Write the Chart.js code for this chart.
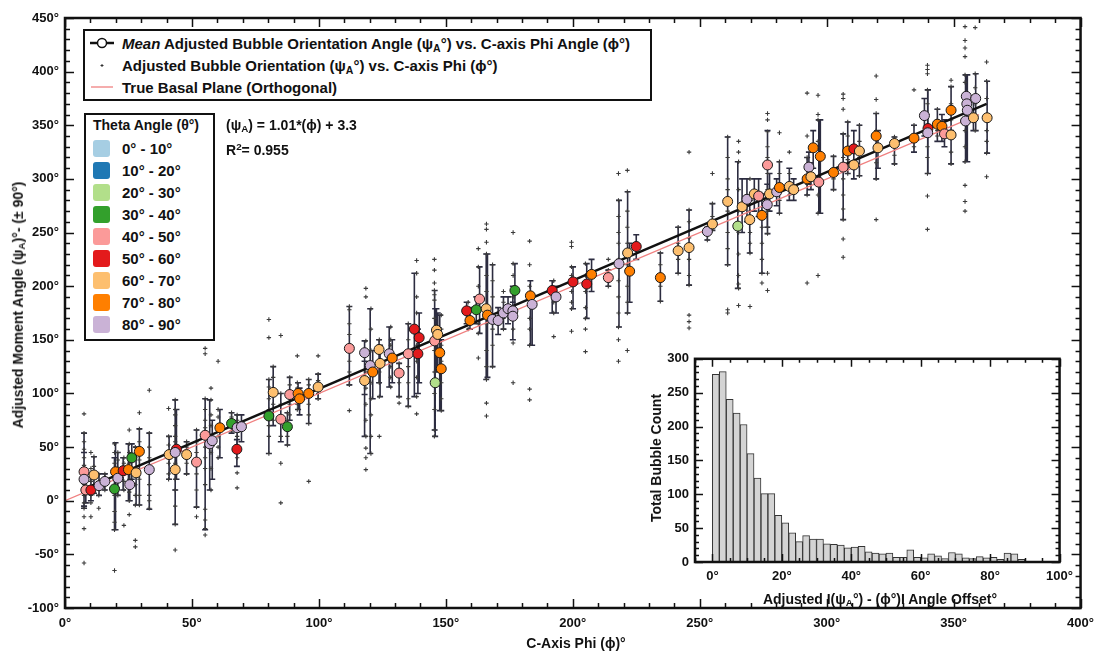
<!DOCTYPE html>
<html>
<head>
<meta charset="utf-8">
<script src="https://cdn.jsdelivr.net/npm/chart.js@4.4.1/dist/chart.umd.min.js"></script>
<style>
    body { margin: 0; background: #fff; font-family: "Liberation Sans", Arial, sans-serif; }
    #wrap { position: relative; width: 1102px; height: 655px; overflow: hidden; }
    #main { position: absolute; left: 0; top: 0; }
    #insetWrap { position: absolute; left: 640px; top: 345px; width: 440px; height: 265px; }
    .box { position: absolute; background: #fff; border: 2px solid #111; box-sizing: border-box; }
    .txt { position: absolute; font-weight: bold; color: #111; white-space: nowrap; line-height: 1; }
    .txt sub { font-size: 0.7em; vertical-align: -0.25em; }
    .txt sup { font-size: 0.7em; vertical-align: 0.5em; }
    .sw { position: absolute; width: 17px; height: 17px; border-radius: 3px; }
    .rot { transform: translate(-50%, -50%) rotate(-90deg); }
</style>
</head>
<body>
<div id="wrap">
    <canvas id="main" width="1102" height="655"></canvas>
    <div id="insetWrap"><canvas id="inset" width="440" height="265"></canvas></div>
    <div id="overlay"></div>
</div>
<script>
// Theta classes (colour per 10 degree bin)
const thetaLabels = ['0° - 10°', '10° - 20°', '20° - 30°', '30° - 40°', '40° - 50°',
    '50° - 60°', '60° - 70°', '70° - 80°', '80° - 90°'];
const thetaColors = ['#a6cee3', '#1f78b4', '#b2df8a', '#33a02c', '#fb9a99',
    '#e31a1c', '#fdbf6f', '#ff7f00', '#cab2d6'];

// Mean points: phi, psi, theta class, error bar low / high
const meanPhi = [7.5, 7.5, 8.2, 10.2, 11.4, 13.4, 15.7, 19.5, 19.9, 20.8,
    22.9, 25.0, 26.3, 25.5, 28.0, 29.3, 33.2, 41.0, 43.9, 43.4,
    43.4, 47.9, 51.8, 55.2, 57.0, 58.0, 61.0, 65.6, 67.8, 69.5,
    67.7, 82.0, 80.3, 85.0, 87.6, 88.5, 91.8, 92.4, 96.0, 99.7,
    112.0, 118.0, 118.0, 120.2, 121.2, 123.7, 124.1, 127.7, 128.9, 131.6,
    135.2, 137.6, 139.5, 139.0, 145.6, 145.8, 146.3, 146.8, 147.6, 148.2,
    158.2, 162.0, 163.3, 159.5, 165.9, 166.4, 168.4, 170.6, 172.7, 174.5,
    176.4, 176.4, 177.2, 183.3, 184.0, 191.9, 193.4, 200.1, 205.5, 207.4,
    214.0, 218.2, 221.6, 222.4, 225.0, 234.5, 241.5, 245.8, 253.0, 255.0,
    261.0, 265.0, 266.7, 268.6, 269.7, 271.5, 273.2, 274.5, 276.6, 277.5,
    276.7, 280.3, 281.4, 285.3, 287.0, 292.3, 293.0, 293.8, 294.7, 296.9,
    297.5, 302.7, 306.5, 308.3, 310.7, 310.7, 312.9, 319.5, 320.2, 326.7,
    334.4, 338.5, 339.9, 339.8, 343.6, 345.4, 346.4, 349.0, 349.0, 355.0,
    355.2, 355.4, 354.7, 358.7, 357.8, 363.2];
const meanPsi = [27, 20, 10, 10, 24, 14, 18, 11, 27, 21,
    28, 29, 40, 15, 26, 46, 29, 43, 48, 45,
    29, 43, 36, 61, 53, 56, 68, 72, 68, 69,
    48, 101, 79, 76, 69, 99, 100, 95, 100, 106,
    142, 138, 112, 126, 120, 141, 128, 137, 133, 119,
    137, 160, 152, 137, 149, 110, 159, 155, 138, 123,
    177, 178, 188, 168, 179, 173, 169, 168, 175, 179,
    177, 172, 196, 191, 183, 196, 190, 204, 202, 211,
    208, 221, 231, 214, 237, 208, 233, 236, 251, 258,
    279, 256, 274, 281, 262, 286, 284, 266, 276, 286,
    313, 288, 292, 293, 290, 300, 311, 302, 329, 297,
    321, 306, 311, 326, 328, 313, 326, 340, 329, 333,
    338, 359, 347, 343, 351, 349, 342, 341, 364, 377,
    370, 364, 354, 375, 357, 357];
const meanTheta = [4, 8, 4, 5, 6, 8, 8, 3, 7, 8,
    5, 7, 3, 8, 6, 7, 8, 6, 5, 8,
    6, 6, 4, 4, 8, 8, 7, 3, 8, 8,
    5, 6, 3, 4, 3, 4, 7, 7, 7, 6,
    4, 8, 6, 8, 7, 6, 6, 8, 7, 4,
    4, 5, 5, 5, 4, 2, 6, 6, 7, 7,
    5, 3, 4, 7, 6, 7, 8, 8, 8, 8,
    8, 8, 3, 7, 8, 5, 8, 5, 5, 7,
    4, 8, 6, 7, 5, 7, 6, 6, 8, 6,
    6, 2, 6, 8, 6, 6, 4, 7, 8, 6,
    4, 8, 7, 6, 6, 7, 8, 6, 7, 4,
    7, 7, 4, 7, 5, 6, 6, 7, 6, 6,
    7, 8, 5, 8, 7, 7, 4, 6, 7, 8,
    8, 8, 8, 8, 6, 6];
const errLow = [-7, -5, -2, 0, 7, 5, 10, -27, -27, 5,
    10, 0, 20, 0, -4, -4, -8, 20, 20, -22,
    10, 25, -6, -27, 10, 20, 40, 63, 50, 55,
    32, 70, 44, 55, 52, 75, 85, 80, 72, 95,
    108, 99, 60, 44, 95, 110, 97, 106, 110, 97,
    88, 97, 110, 100, 66, 60, 120, 120, 84, 84,
    165, 165, 156, 160, 113, 115, 125, 155, 160, 165,
    150, 150, 175, 145, 145, 175, 175, 179, 170, 195,
    200, 162, 175, 185, 225, 186, 212, 201, 243, 252,
    220, 198, 250, 260, 231, 270, 265, 212, 255, 270,
    249, 275, 268, 280, 280, 285, 295, 290, 310, 268,
    268, 290, 262, 305, 310, 300, 303, 300, 310, 314,
    325, 340, 305, 305, 335, 335, 330, 314, 345, 316,
    316, 316, 316, 345, 345, 324];
const errHigh = [63, 45, 25, 22, 41, 25, 25, 40, 54, 45,
    40, 53, 53, 30, 50, 67, 63, 60, 85, 94,
    50, 55, 66, 95, 94, 75, 85, 82, 80, 80,
    57, 125, 113, 100, 82, 115, 110, 105, 113, 118,
    181, 149, 130, 179, 140, 150, 145, 162, 150, 128,
    165, 212, 175, 160, 196, 179, 179, 175, 173, 150,
    185, 190, 218, 180, 230, 230, 220, 180, 190, 190,
    200, 185, 221, 205, 190, 205, 200, 218, 221, 225,
    215, 280, 288, 240, 248, 231, 255, 271, 255, 277,
    339, 316, 300, 300, 280, 300, 300, 286, 295, 305,
    345, 300, 316, 310, 300, 320, 325, 315, 345, 355,
    355, 321, 342, 353, 345, 330, 350, 361, 345, 339,
    350, 375, 383, 383, 365, 360, 355, 386, 386, 397,
    397, 397, 397, 398, 375, 391];

// Individual bubbles: phi column and its psi values
const bubblePhi = [7.5, 10.2, 11.4, 13.3, 15.7, 19.5, 20.8, 23.2, 25.3, 27.7,
    29.3, 33.2, 40.8, 43.4, 47.9, 51.8, 55.2, 57.5, 60.3, 65.6,
    67.8, 80.3, 82, 85, 87.6, 88.5, 91.5, 96, 99.7, 112,
    118.5, 120.5, 123.8, 128.3, 131.6, 135.2, 138.5, 145.5, 148.2, 158.8,
    162.8, 166, 168.4, 172.7, 176.5, 183, 192.5, 199.5, 205, 214,
    218, 221.5, 234.5, 241.5, 245.8, 253, 255, 261, 265.3, 269.8,
    274.5, 276.7, 281.4, 285.3, 292.3, 296.6, 302.7, 306.5, 308.3, 312.9,
    319.5, 326.7, 334.4, 339.7, 343.6, 349, 354.5, 358.5, 363];
const bubblePsi = [
    [81, 63, 55, 48, 40, 33, 22, 15, 5, -2, -7, -15, -26, -58],
    [45, 30, 18, 5, -2, -15],
    [41, 32, 15, 7],
    [25, 18, 5, -7],
    [25, 20, 10],
    [53, 45, 35, 20, 5, -10, -20, -27, -65],
    [45, 38, 30, 12, 5],
    [40, 35, 18, 10, -23],
    [66, 53, 45, 35, 20, 8, 0, -13],
    [50, 40, 15, 5, -4, -37, -43],
    [82, 67, 55, 38, 20, 5, -4],
    [103, 63, 50, 40, 15, 5, 0, -7],
    [86, 60, 52, 35, 25, 20],
    [94, 85, 80, 70, 60, 55, 35, 20, 10, -5, -22, -46],
    [55, 50, 35, 25],
    [66, 55, 45, 25, 10, -6, -15],
    [142, 137, 95, 85, 75, 68, 50, 40, 30, 15, -8, -18, -26, -32],
    [105, 94, 80, 70, 45, 30, 10],
    [130, 85, 78, 60, 50, 40],
    [82, 78, 65],
    [80, 75, 60, 40, 26, 12],
    [169, 152, 113, 106, 95, 85, 70, 60, 44],
    [125, 115, 90, 75],
    [154, 100, 90, 60, 35, -2],
    [82, 75, 60, 52],
    [115, 108, 90, 80],
    [135, 110, 105, 90, 85],
    [113, 108, 90, 80, 72, 18],
    [135, 118, 112, 100, 95],
    [181, 178, 165, 155, 140, 130, 120, 108, 84],
    [198, 190, 149, 140, 120, 105, 90, 75, 60, 49, 40, 29],
    [179, 160, 140, 110, 95, 80, 60, 44],
    [150, 140, 120, 110, 97, 60],
    [162, 150, 145, 125, 115, 106],
    [128, 110, 97, 91],
    [165, 150, 125, 110, 95, 88],
    [224, 212, 190, 175, 145, 130, 115, 97, 81],
    [225, 215, 203, 196, 192, 187, 170, 160, 140, 120, 100, 85, 66, 60],
    [173, 160, 145, 130, 110, 95, 84],
    [185, 175, 165, 160],
    [235, 218, 200, 180, 165, 156, 133],
    [258, 253, 241, 230, 210, 195, 180, 165, 140, 125, 113, 91, 79],
    [220, 205, 190, 160, 145, 125],
    [195, 185, 170, 160],
    [250, 221, 210, 190, 176, 160, 147, 110],
    [242, 220, 200, 190, 170, 160, 145, 104, 94],
    [205, 195, 185, 175, 153],
    [241, 237, 218, 210, 195, 185, 179, 158],
    [221, 210, 195, 180, 170, 160, 139],
    [225, 215, 200],
    [305, 280, 265, 250, 240, 225, 205, 190, 175, 162, 150, 130],
    [308, 288, 270, 255, 240, 220, 200, 185, 175, 140],
    [231, 220, 200, 186],
    [255, 240, 225, 212],
    [325, 271, 260, 245, 225, 210, 201, 173, 167, 161],
    [255, 248, 243],
    [305, 277, 265, 252],
    [339, 320, 300, 290, 270, 250, 235, 220, 178, 175],
    [335, 325, 316, 290, 270, 250, 230, 210, 202, 198, 182],
    [300, 280, 270, 250, 240, 231, 181],
    [286, 270, 255, 240, 225, 212, 203],
    [361, 355, 344, 330, 320, 305, 290, 270, 255, 249, 212, 196],
    [343, 316, 305, 290, 280, 268],
    [325, 305, 295, 285],
    [380, 340, 320, 310, 295, 285, 203],
    [378, 360, 355, 335, 320, 300, 285, 268, 210],
    [321, 310, 300, 290],
    [379, 375, 365, 342, 320, 300, 285, 272, 262, 244, 227],
    [353, 340, 318, 305],
    [350, 335, 320, 303],
    [396, 374, 361, 345, 330, 315, 300, 262],
    [339, 330, 322, 314],
    [383, 350, 340, 330],
    [406, 402, 398, 383, 370, 360, 345, 330, 320, 305, 284, 253],
    [365, 355, 345, 340],
    [392, 386, 370, 355, 340, 325, 314],
    [442, 429, 422, 414, 397, 390, 380, 370, 360, 345, 330, 316, 294, 279, 270],
    [441, 398, 385, 370, 355, 345],
    [409, 391, 375, 360, 345, 335, 324, 302]
];

// Linear fit shown on the chart
const fitSlope = 1.01;
const fitIntercept = 3.3;
const fitRange = [7, 363];
const basalRange = [0, 360];

// Inset histogram: 2 degree bins from 0 to 90
const histBins = [1, 3, 5, 7, 9, 11, 13, 15, 17, 19, 21, 23, 25, 27, 29, 31, 33, 35, 37, 39,
    41, 43, 45, 47, 49, 51, 53, 55, 57, 59, 61, 63, 65, 67, 69, 71, 73, 75, 77, 79,
    81, 83, 85, 87, 89];
const histCounts = [277, 281, 240, 220, 203, 160, 124, 101, 101, 69, 58, 43, 30, 39, 34, 34, 27, 26, 25, 21,
    22, 23, 15, 13, 12, 13, 7, 7, 18, 7, 6, 12, 9, 5, 14, 12, 6, 5, 8, 6,
    7, 4, 13, 12, 4];
const histTicks = [0, 20, 40, 60, 80, 100];

const tickFont = { family: '"Liberation Sans", Arial, sans-serif', size: 13, weight: 'bold' };

// Frame with inward ticks on all four sides
function framePlugin(xMajor, xMinor, yMajor, yMinor, majorLen, minorLen) {
    return {
        id: 'frame',
        afterDatasetsDraw(chart) {
            const { ctx, chartArea: a, scales: { x, y } } = chart;
            ctx.save();
            ctx.strokeStyle = '#111';
            ctx.lineWidth = 1.5;
            ctx.beginPath();
            for (let v = Math.ceil(x.min / xMinor) * xMinor; v <= x.max + 1e-9; v += xMinor) {
                const px = Math.round(x.getPixelForValue(v)) + 0.5;
                const len = Math.abs(v % xMajor) < 1e-6 ? majorLen : minorLen;
                ctx.moveTo(px, a.bottom); ctx.lineTo(px, a.bottom - len);
                ctx.moveTo(px, a.top); ctx.lineTo(px, a.top + len);
            }
            for (let v = Math.ceil(y.min / yMinor) * yMinor; v <= y.max + 1e-9; v += yMinor) {
                const py = Math.round(y.getPixelForValue(v)) + 0.5;
                const len = Math.abs(v % yMajor) < 1e-6 ? majorLen : minorLen;
                ctx.moveTo(a.left, py); ctx.lineTo(a.left + len, py);
                ctx.moveTo(a.right, py); ctx.lineTo(a.right - len, py);
            }
            ctx.stroke();
            ctx.lineWidth = 2.5;
            ctx.strokeRect(a.left, a.top, a.right - a.left, a.bottom - a.top);
            ctx.restore();
        }
    };
}

// Error bars behind the mean points
const errorBarPlugin = {
    id: 'errorBars',
    beforeDatasetsDraw(chart) {
        const { ctx, scales: { x, y } } = chart;
        ctx.save();
        ctx.strokeStyle = '#2c2c40';
        ctx.lineWidth = 1.6;
        ctx.beginPath();
        meanPhi.forEach((phi, i) => {
            const px = x.getPixelForValue(phi);
            const top = y.getPixelForValue(errHigh[i]);
            const bot = y.getPixelForValue(errLow[i]);
            ctx.moveTo(px, top); ctx.lineTo(px, bot);
            ctx.moveTo(px - 3, top); ctx.lineTo(px + 3, top);
            ctx.moveTo(px - 3, bot); ctx.lineTo(px + 3, bot);
        });
        ctx.stroke();
        ctx.restore();
    }
};

const whiteAreaPlugin = {
    id: 'whiteArea',
    beforeDraw(chart) {
        const { ctx, chartArea: a } = chart;
        ctx.save();
        ctx.fillStyle = '#fff';
        ctx.fillRect(a.left, a.top, a.right - a.left, a.bottom - a.top);
        ctx.restore();
    }
};

// Build datasets
const bubbleData = [];
bubblePhi.forEach((phi, i) => {
    bubblePsi[i].forEach(psi => bubbleData.push({ x: phi, y: psi }));
});
const meanData = meanPhi.map((phi, i) => ({ x: phi, y: meanPsi[i] }));
const fitData = fitRange.map(v => ({ x: v, y: fitSlope * v + fitIntercept }));
const basalData = basalRange.map(v => ({ x: v, y: v }));

new Chart(document.getElementById('main'), {
    type: 'scatter',
    data: {
        datasets: [
            {
                label: 'Mean',
                data: meanData,
                pointRadius: 5,
                pointBackgroundColor: meanTheta.map(t => thetaColors[t]),
                pointBorderColor: '#1a1a1a',
                pointBorderWidth: 1,
                order: 0
            },
            {
                type: 'line',
                label: 'Fit',
                data: fitData,
                borderColor: '#111',
                borderWidth: 2.5,
                pointRadius: 0,
                order: 1
            },
            {
                type: 'line',
                label: 'True Basal Plane',
                data: basalData,
                borderColor: '#f08080',
                borderWidth: 1.3,
                pointRadius: 0,
                order: 2
            },
            {
                label: 'Bubbles',
                data: bubbleData,
                pointStyle: 'cross',
                pointRadius: 2.2,
                borderColor: '#3a3a3a',
                borderWidth: 1.1,
                order: 3
            }
        ]
    },
    options: {
        responsive: false,
        animation: false,
        layout: { padding: { top: 18, right: 13, left: 0, bottom: 0 } },
        plugins: { legend: { display: false }, tooltip: { enabled: false } },
        scales: {
            x: {
                type: 'linear',
                min: 0,
                max: 400,
                grid: { display: false, drawTicks: false },
                border: { display: false },
                ticks: {
                    stepSize: 50,
                    padding: 8,
                    color: '#111',
                    font: tickFont,
                    maxRotation: 0,
                    callback: v => v + '°'
                },
                afterFit: s => { s.height = 47; }
            },
            y: {
                type: 'linear',
                min: -100,
                max: 450,
                grid: { display: false, drawTicks: false },
                border: { display: false },
                ticks: {
                    stepSize: 50,
                    padding: 6,
                    color: '#111',
                    font: tickFont,
                    callback: v => v + '°'
                },
                afterFit: s => { s.width = 65; }
            }
        }
    },
    plugins: [errorBarPlugin, framePlugin(50, 10, 50, 10, 9, 5)]
});

// Inset histogram
new Chart(document.getElementById('inset'), {
    type: 'bar',
    data: {
        datasets: [{
            data: histBins.map((b, i) => ({ x: b, y: histCounts[i] })),
            backgroundColor: '#d4d4d4',
            borderColor: '#333',
            borderWidth: 1,
            barPercentage: 1,
            categoryPercentage: 1
        }]
    },
    options: {
        responsive: false,
        animation: false,
        layout: { padding: { top: 9, right: 15, left: 0, bottom: 0 } },
        plugins: { legend: { display: false }, tooltip: { enabled: false } },
        scales: {
            x: {
                type: 'linear',
                min: -5,
                max: 100,
                offset: false,
                grid: { display: false, drawTicks: false },
                border: { display: false },
                afterBuildTicks: s => { s.ticks = histTicks.map(v => ({ value: v })); },
                ticks: {
                    autoSkip: false,
                    padding: 7,
                    color: '#111',
                    font: tickFont,
                    maxRotation: 0,
                    callback: v => v + '°'
                },
                afterFit: s => { s.height = 48; }
            },
            y: {
                min: 0,
                max: 300,
                grid: { display: false, drawTicks: false },
                border: { display: false },
                ticks: { stepSize: 50, padding: 6, color: '#111', font: tickFont },
                afterFit: s => { s.width = 55; }
            }
        }
    },
    plugins: [whiteAreaPlugin, framePlugin(20, 5, 50, 10, 8, 4)]
});

// Legends and labels as HTML text
const overlay = document.getElementById('overlay');
let html = '';
html += '<div class="box" style="left:83px;top:29px;width:569px;height:72px;"></div>';
html += '<svg style="position:absolute;left:88px;top:36px;" width="30" height="60">' +
    '<line x1="2" y1="7" x2="26" y2="7" stroke="#111" stroke-width="2.5"/>' +
    '<circle cx="14" cy="7" r="4.5" fill="#fff" stroke="#111" stroke-width="1.5"/>' +
    '<path d="M12.5 29.5 h3 M14 28 v3" stroke="#333" stroke-width="1"/>' +
    '<line x1="3" y1="51" x2="25" y2="51" stroke="#f08080" stroke-width="1.3"/></svg>';
html += '<div class="txt" style="left:122px;top:36px;font-size:15px;"><i>Mean</i> Adjusted Bubble Orientation Angle (ψ<sub>A</sub>°) vs. C-axis Phi Angle (ϕ°)</div>';
html += '<div class="txt" style="left:122px;top:58px;font-size:15px;">Adjusted Bubble Orientation (ψ<sub>A</sub>°) vs. C-axis Phi (ϕ°)</div>';
html += '<div class="txt" style="left:122px;top:80px;font-size:15px;">True Basal Plane (Orthogonal)</div>';

html += '<div class="box" style="left:84px;top:113px;width:131px;height:228px;"></div>';
html += '<div class="txt" style="left:93px;top:118px;font-size:14px;">Theta Angle (θ°)</div>';
thetaLabels.forEach((lab, i) => {
    const yc = 148 + i * 22;
    html += `<div class="sw" style="left:93px;top:${yc - 8}px;background:${thetaColors[i]};"></div>`;
    html += `<div class="txt" style="left:122px;top:${yc - 7}px;font-size:15px;">${lab}</div>`;
});

html += '<div class="txt" style="left:226px;top:118px;font-size:14px;">(ψ<sub>A</sub>) = 1.01*(ϕ) + 3.3</div>';
html += '<div class="txt" style="left:226px;top:142px;font-size:14px;">R<sup>2</sup>= 0.955</div>';

html += '<div class="txt rot" style="left:19px;top:305px;font-size:14px;">Adjusted Moment Angle (ψ<sub>A</sub>)°- (± 90°)</div>';
html += '<div class="txt" style="left:576px;top:643px;font-size:14px;transform:translate(-50%,-50%);">C-Axis Phi (ϕ)°</div>';
html += '<div class="txt rot" style="left:656px;top:458px;font-size:14px;">Total Bubble Count</div>';
html += '<div class="txt" style="left:880px;top:600px;font-size:14px;transform:translate(-50%,-50%);">Adjusted I(ψ<sub>A</sub>°) - (ϕ°)I Angle Offset°</div>';
overlay.innerHTML = html;
</script>
</body>
</html>
